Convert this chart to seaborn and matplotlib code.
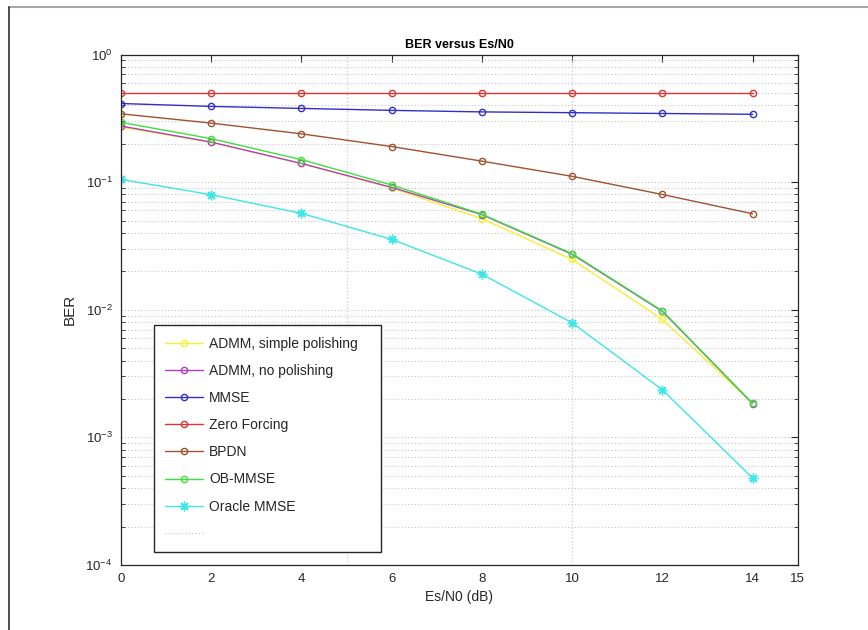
import numpy as np
import pandas as pd
import matplotlib
matplotlib.use("Agg")
import matplotlib.pyplot as plt
import seaborn as sns
from matplotlib.lines import Line2D
from matplotlib.ticker import FixedLocator, LogLocator, NullFormatter

# ---- data ----
esn0 = [0, 2, 4, 6, 8, 10, 12, 14]
admm_simple = [0.270, 0.205, 0.140, 0.090, 0.0517, 0.0248, 0.0084, 0.00185]
admm_nopol = [0.275, 0.206, 0.140, 0.091, 0.0556, 0.0272, 0.0097, 0.00184]
mmse = [0.413, 0.392, 0.378, 0.365, 0.355, 0.350, 0.345, 0.340]
zero_forcing = [0.495, 0.495, 0.495, 0.495, 0.495, 0.495, 0.495, 0.495]
bpdn = [0.343, 0.290, 0.239, 0.190, 0.146, 0.111, 0.080, 0.0565]
ob_mmse = [0.294, 0.219, 0.150, 0.095, 0.056, 0.0275, 0.0098, 0.00185]
oracle_mmse = [0.105, 0.0797, 0.0569, 0.0356, 0.019, 0.0079, 0.00236, 0.00048]

series_names = ["ADMM, simple polishing", "ADMM, no polishing", "MMSE",
                "Zero Forcing", "BPDN", "OB-MMSE", "Oracle MMSE"]
series_values = [admm_simple, admm_nopol, mmse, zero_forcing, bpdn, ob_mmse, oracle_mmse]
series_colors = ["#f5f032", "#b040c0", "#3030c8", "#e03434", "#a0522d", "#3ee03e", "#3ee6e6"]
series_markers = ["o", "o", "o", "o", "o", "o", (8, 2, 0)]

x_ticks = [0, 2, 4, 6, 8, 10, 12, 14, 15]
title = "BER versus Es/N0"
x_label = "Es/N0 (dB)"
y_label = "BER"

# ---- style ----
sns.set_theme(style="white")
plt.rcParams["font.family"] = ["Liberation Sans", "DejaVu Sans"]
plt.rcParams["mathtext.fontset"] = "custom"
plt.rcParams["mathtext.rm"] = "Liberation Sans"
plt.rcParams["mathtext.default"] = "regular"

fig = plt.figure(figsize=(8.68, 6.30), dpi=100)
fig.patch.set_facecolor("white")
ax = fig.add_axes([121 / 868, 1 - 565 / 630, (797.7 - 121) / 868, (565 - 54.5) / 630])

txt_color = "#262626"

for name, vals, col, mk in zip(series_names, series_values, series_colors, series_markers):
    df = pd.DataFrame({"x": esn0, "y": vals})
    if isinstance(mk, tuple):
        sns.lineplot(data=df, x="x", y="y", ax=ax, color=col, marker=mk,
                     markersize=7, markeredgewidth=1.0, markeredgecolor=col,
                     linewidth=1.0, label=name, legend=False)
    else:
        sns.lineplot(data=df, x="x", y="y", ax=ax, color=col, marker=mk,
                     markersize=4.5, markeredgewidth=1.0, markeredgecolor=col,
                     markerfacecolor="none", linewidth=1.0, label=name, legend=False)

ax.set_yscale("log")
ax.set_xlim(0, 15)
ax.set_ylim(1e-4, 1)

ax.xaxis.set_major_locator(FixedLocator(x_ticks))
ax.set_xticklabels([str(t) for t in x_ticks])
ax.xaxis.set_minor_locator(FixedLocator([5, 10]))
ax.xaxis.remove_overlapping_locs = False
ax.yaxis.set_major_locator(LogLocator(base=10, numticks=10))
ax.yaxis.set_minor_locator(LogLocator(base=10, subs=np.arange(2, 10), numticks=50))
ax.yaxis.set_minor_formatter(NullFormatter())

ax.tick_params(axis="both", which="major", direction="in", top=True, right=True,
               length=5, width=0.8, colors=txt_color, labelsize=9.5, pad=6)
ax.tick_params(axis="y", which="minor", direction="in", left=True, right=True,
               length=3, width=0.6, colors=txt_color)
ax.tick_params(axis="x", which="minor", length=0)

grid_kw = dict(color="#c4c4c4", linestyle=(0, (1, 2)), linewidth=0.8)
ax.grid(True, which="major", axis="y", **grid_kw)
ax.grid(True, which="minor", axis="y", **grid_kw)
ax.grid(True, which="minor", axis="x", **grid_kw)
ax.grid(False, which="major", axis="x")
ax.set_axisbelow(True)

for sp in ax.spines.values():
    sp.set_color(txt_color)
    sp.set_linewidth(0.9)
    sp.set_visible(True)

ax.set_title(title, fontsize=9, fontweight="bold", color="black", pad=5)
ax.set_xlabel(x_label, fontsize=10, color=txt_color, labelpad=3)
ax.set_ylabel(y_label, fontsize=11, color=txt_color, labelpad=6)

# legend
handles = []
for name, col, mk in zip(series_names, series_colors, series_markers):
    if isinstance(mk, tuple):
        h = Line2D([], [], color=col, marker=mk, markersize=7, markeredgewidth=1.0,
                   linewidth=1.0)
    else:
        h = Line2D([], [], color=col, marker=mk, markersize=4.5, markeredgewidth=1.0,
                   markerfacecolor="none", linewidth=1.0)
    handles.append(h)
handles.append(Line2D([], [], **grid_kw))
labels = series_names + [" "]

leg = ax.legend(handles, labels, loc="lower left",
                bbox_to_anchor=(0.0488, 0.0255, 0.335, 0.2), mode="expand",
                fontsize=10, frameon=True, fancybox=False, shadow=False,
                edgecolor=txt_color, framealpha=1, borderaxespad=0,
                handlelength=2.75, handletextpad=0.4, labelspacing=0.95,
                borderpad=0.8)
leg.get_frame().set_linewidth(1.0)
for t in leg.get_texts():
    t.set_color(txt_color)

# outer frame lines of the figure window
fig.add_artist(Line2D([9 / 868, 1], [1 - 7 / 630, 1 - 7 / 630], transform=fig.transFigure,
                      color="#a8a8a8", linewidth=1.5))
fig.add_artist(Line2D([9 / 868, 9 / 868], [0, 1 - 7 / 630], transform=fig.transFigure,
                      color="#303030", linewidth=1.2))

fig.savefig("out.png", dpi=100, facecolor="white")
